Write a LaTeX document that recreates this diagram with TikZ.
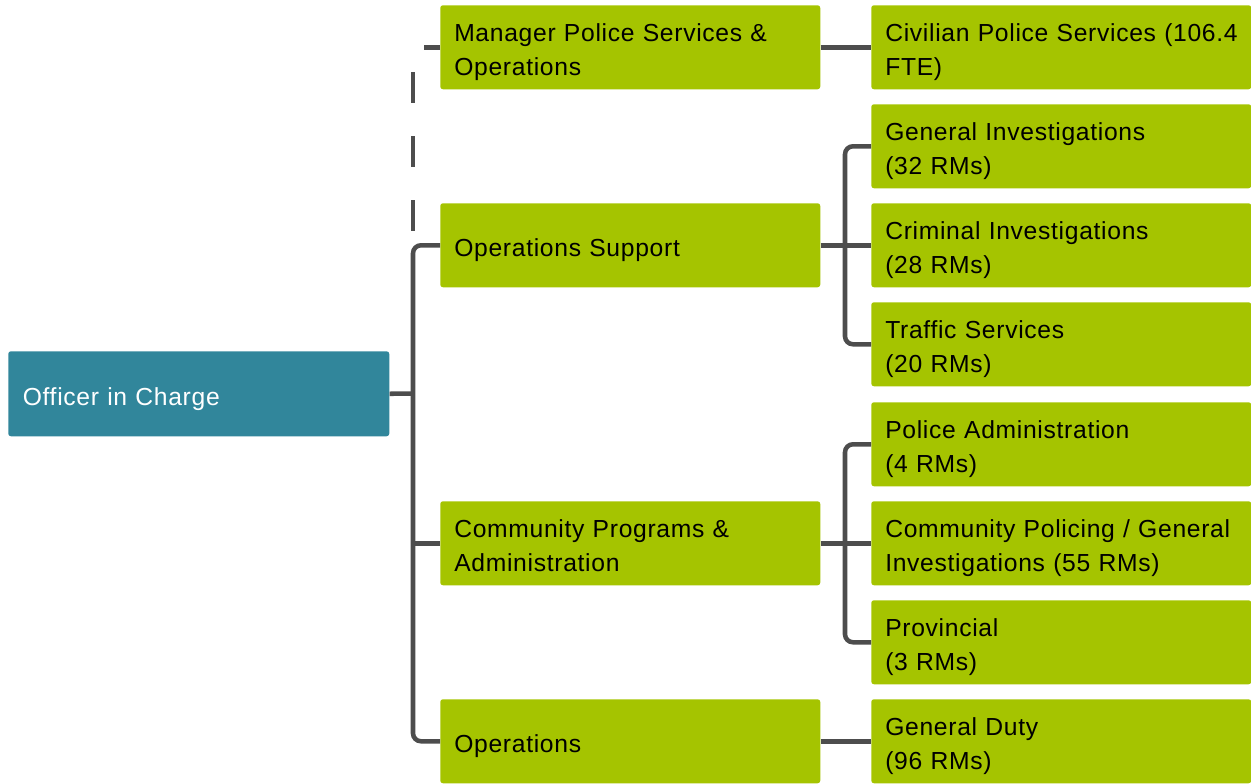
\documentclass[tikz,border=0pt]{standalone}
\usepackage{fontspec}
\setmainfont{Liberation Sans}[LetterSpace=2.8,WordSpace=0.6]
\definecolor{boxgreen}{RGB}{165,196,0}
\definecolor{boxteal}{RGB}{49,134,155}
\definecolor{linegray}{RGB}{77,77,77}
\begin{document}
\begin{tikzpicture}[x=0.75pt,y=-0.75pt,
  box/.style={fill=boxgreen, rounded corners=2pt, minimum width=285pt, minimum height=63pt,
    text width=264pt, inner xsep=10.5pt, inner ysep=0pt, align=left, anchor=north west,
    font=\fontsize{18.5}{25.5}\selectfont,
    execute at begin node={\rule{0pt}{22.2pt}},
    execute at end node={\rule[-5pt]{0pt}{5pt}}},
  topbox/.style={box, fill=boxteal, text=white, minimum width=285.75pt, minimum height=63.75pt},
  conn/.style={draw=linegray, line width=3.4pt, line cap=butt},
  elbow/.style={conn, rounded corners=6pt}]
\useasboundingbox (0,0) rectangle (1251,783);

\node[topbox] (oic) at (8,351) {Officer in Charge};

\node[box] (mps) at (440,5)   {Manager Police Services \&\\Operations};
\node[box] (os)  at (440,203) {Operations Support};
\node[box] (cpa) at (440,501) {Community Programs \&\\Administration};
\node[box] (op)  at (440,699) {Operations};

\node[box] (civ) at (871,5)   {Civilian Police Services (106.4\\FTE)};
\node[box] (gi)  at (871,104) {General Investigations\\(32 RMs)};
\node[box] (ci)  at (871,203) {Criminal Investigations\\(28 RMs)};
\node[box] (ts)  at (871,302) {Traffic Services\\(20 RMs)};
\node[box] (pa)  at (871,402) {Police Administration\\(4 RMs)};
\node[box] (cp)  at (871,501) {Community Policing / General\\Investigations (55 RMs)};
\node[box] (pr)  at (871,600) {Provincial\\(3 RMs)};
\node[box] (gd)  at (871,699) {General Duty\\(96 RMs)};

\coordinate (trunk) at (413,393.5);
\coordinate (b1) at (845,245);
\coordinate (b2) at (845,542.5);

% left trunk
\draw[conn] (oic.east) -- (trunk);
\draw[elbow] (os.west) -| (trunk) |- (op.west);
\draw[conn] (cpa.west) -- (cpa.west -| trunk);
\draw[conn, dash pattern=on 12pt off 27pt on 23.25pt off 24.75pt on 23.25pt off 24.75pt on 23.25pt off 40pt]
  (mps.west) -| (os.west -| trunk);

% right brackets
\draw[conn] (mps.east) -- (civ.west);
\draw[conn] (os.east) -- (ci.west);
\draw[elbow] (gi.west) -| (b1) |- (ts.west);
\draw[conn] (cpa.east) -- (cp.west);
\draw[elbow] (pa.west) -| (b2) |- (pr.west);
\draw[conn] (op.east) -- (gd.west);
\end{tikzpicture}
\end{document}
